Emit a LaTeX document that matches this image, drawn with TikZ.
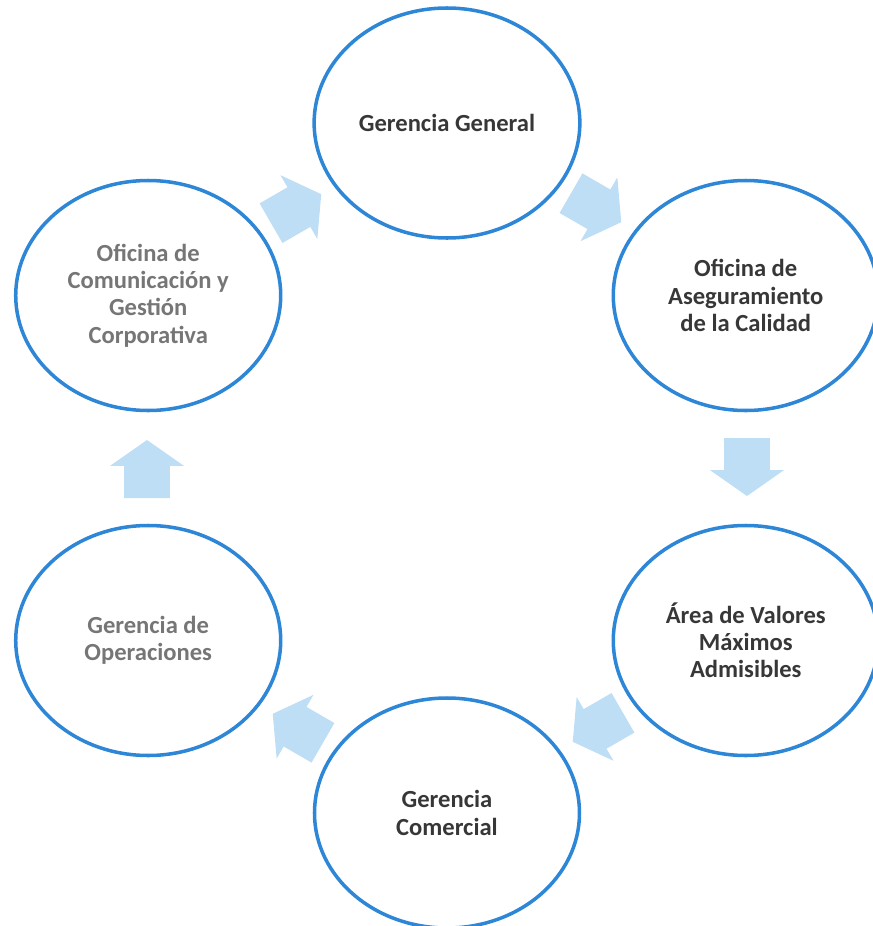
\documentclass[tikz,border=0pt]{standalone}
\usepackage{fontspec}
\setmainfont{Carlito}
\usepackage{xcolor}
\usepackage{tikz}
\usetikzlibrary{shapes.geometric, shapes.arrows}

\definecolor{ringblue}{RGB}{46,134,214}
\definecolor{arrowblue}{RGB}{190,222,245}
\definecolor{darktext}{RGB}{55,55,55}
\definecolor{greytext}{RGB}{118,118,118}

\tikzset{
    unit/.style={ellipse, draw=ringblue, line width=2pt, minimum width=5.3cm, minimum height=4.6cm, align=center, text=darktext, font=\bfseries\fontsize{14}{15.5}\selectfont},
    flow/.style={single arrow, fill=arrowblue, draw=none, inner xsep=0pt, inner ysep=0.45cm, minimum height=1.16cm, single arrow head extend=0.28cm, single arrow tip angle=110, rotate=#1, xshift=-0.18cm}
}

\begin{document}
\begin{tikzpicture}
        \useasboundingbox (-8.94,-9.16) rectangle (8.52,9.36);
        % Units
        \node[unit] (general) at (90:6.9) {Gerencia General};
        \node[unit] (calidad) at (30:6.9) {Oficina de\\Aseguramiento\\de la Calidad};
        \node[unit] (valores) at (-30:6.9) {Área de Valores\\Máximos\\Admisibles};
        \node[unit] (comercial) at (-90:6.9) {Gerencia\\Comercial};
        \node[unit, text=greytext] (operaciones) at (210:6.9) {Gerencia de\\Operaciones};
        \node[unit, text=greytext] (comunicacion) at (150:6.9) {Oficina de\\Comunicación y\\Gestión\\Corporativa};
        
        % Flow
        \node[flow=-30] (general-calidad) at (60:6.0) {};
        \node[flow=-90] (calidad-valores) at (0:6.0) {};
        \node[flow=-150] (valores-comercial) at (-60:6.0) {};
        \node[flow=150] (comercial-operaciones) at (240:6.0) {};
        \node[flow=90] (operaciones-comunicacion) at (180:6.0) {};
        \node[flow=30] (comunicacion-general) at (120:6.0) {};
        
    \end{tikzpicture}
\end{document}
